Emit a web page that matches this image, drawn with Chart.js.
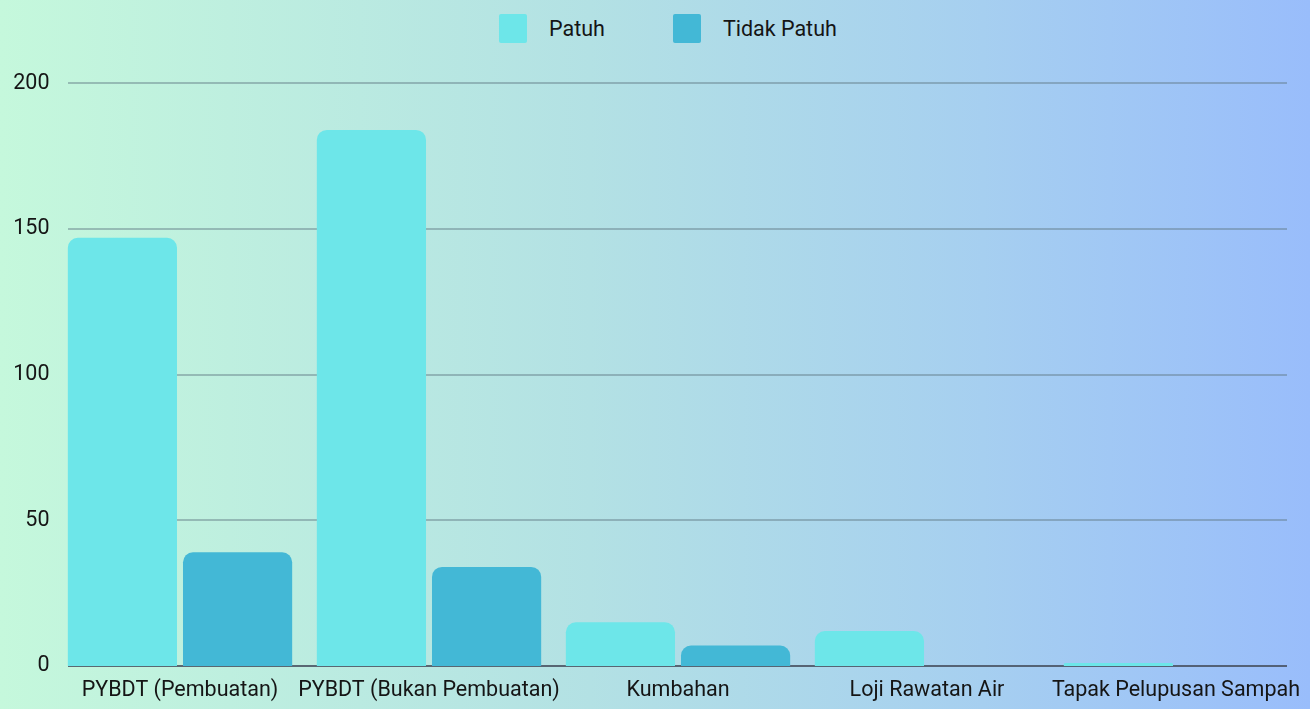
<!DOCTYPE html>
<html>
<head>
<meta charset="utf-8">
<script src="https://cdn.jsdelivr.net/npm/chart.js@4.4.1/dist/chart.umd.min.js"></script>
<style>
  html, body { margin: 0; padding: 0; }
  body {
    width: 1310px; height: 709px; overflow: hidden; position: relative;
    background: linear-gradient(to right, #c5f8dc 0%, #b3e1e4 45%, #a6cff0 75%, #99bdfb 100%);
    font-family: Roboto, "Noto Sans", sans-serif;
  }
  #wrap { position: absolute; left: 0; top: 0; width: 1310px; height: 709px; }
  #legend { position: absolute; top: 14px; left: 499px; display: flex; align-items: center; height: 29px; font-size: 21.5px; color: #151515; }
  .item { display: flex; align-items: center; }
  .box { width: 28px; height: 29px; border-radius: 2px; margin-right: 22px; }
</style>
</head>
<body>
<div id="legend"></div>
<div id="wrap"><canvas id="c" width="1310" height="709"></canvas></div>
<script>
const categories = ["PYBDT (Pembuatan)", "PYBDT (Bukan Pembuatan)", "Kumbahan", "Loji Rawatan Air", "Tapak Pelupusan Sampah"];
const seriesNames = ["Patuh", "Tidak Patuh"];
const patuh = [147, 184, 15, 12, 1];
const tidakPatuh = [39, 34, 7, 0, 0];
const yTicks = [0, 50, 100, 150, 200];
const colors = ["#6de6e9", "#43b8d6"];

// HTML legend
const leg = document.getElementById('legend');
seriesNames.forEach((n, i) => {
  const it = document.createElement('div');
  it.className = 'item';
  if (i > 0) it.style.marginLeft = '68px';
  const b = document.createElement('div');
  b.className = 'box';
  b.style.background = colors[i];
  const t = document.createElement('span');
  t.textContent = n;
  it.appendChild(b); it.appendChild(t);
  leg.appendChild(it);
});

const GRID_L = 68, GRID_R = 1287;
const gridPlugin = {
  id: 'customGrid',
  beforeDatasetsDraw(chart) {
    const ctx = chart.ctx;
    const y = chart.scales.y;
    ctx.save();
    yTicks.forEach(v => {
      const py = Math.round(y.getPixelForValue(v));
      ctx.beginPath();
      ctx.lineWidth = 2;
      ctx.strokeStyle = v === 0 ? 'rgba(70,80,95,0.85)' : 'rgba(95,120,130,0.45)';
      ctx.moveTo(GRID_L, py);
      ctx.lineTo(GRID_R, py);
      ctx.stroke();
    });
    ctx.restore();
  }
};

const fontFam = 'Roboto, "Noto Sans", sans-serif';
new Chart(document.getElementById('c'), {
  type: 'bar',
  data: {
    labels: categories,
    datasets: [
      { label: seriesNames[0], data: patuh, backgroundColor: colors[0], borderRadius: { topLeft: 10, topRight: 10 }, borderSkipped: 'bottom' },
      { label: seriesNames[1], data: tidakPatuh, backgroundColor: colors[1], borderRadius: { topLeft: 10, topRight: 10 }, borderSkipped: 'bottom' }
    ]
  },
  options: {
    responsive: false,
    animation: false,
    devicePixelRatio: 1,
    layout: { padding: { top: 83.3, right: 9.5, left: 0, bottom: 0 } },
    datasets: { bar: { categoryPercentage: 0.925, barPercentage: 0.948 } },
    plugins: { legend: { display: false }, tooltip: { enabled: false } },
    scales: {
      x: {
        grid: { display: false, drawTicks: false },
        border: { display: false },
        ticks: { color: '#151515', font: { family: fontFam, size: 21.5 }, padding: 12, maxRotation: 0, autoSkip: false },
        afterFit(s) { s.height = 43; s.paddingLeft = 0; s.paddingRight = 0; }
      },
      y: {
        min: 0, max: 200,
        grid: { display: false, drawTicks: false },
        border: { display: false },
        ticks: { stepSize: 50, color: '#151515', font: { family: fontFam, size: 21.5 }, padding: 6 },
        afterBuildTicks(s) { s.ticks = yTicks.map(v => ({ value: v })); },
        afterFit(s) { s.width = 55.5; }
      }
    }
  },
  plugins: [gridPlugin]
});
</script>
</body>
</html>
